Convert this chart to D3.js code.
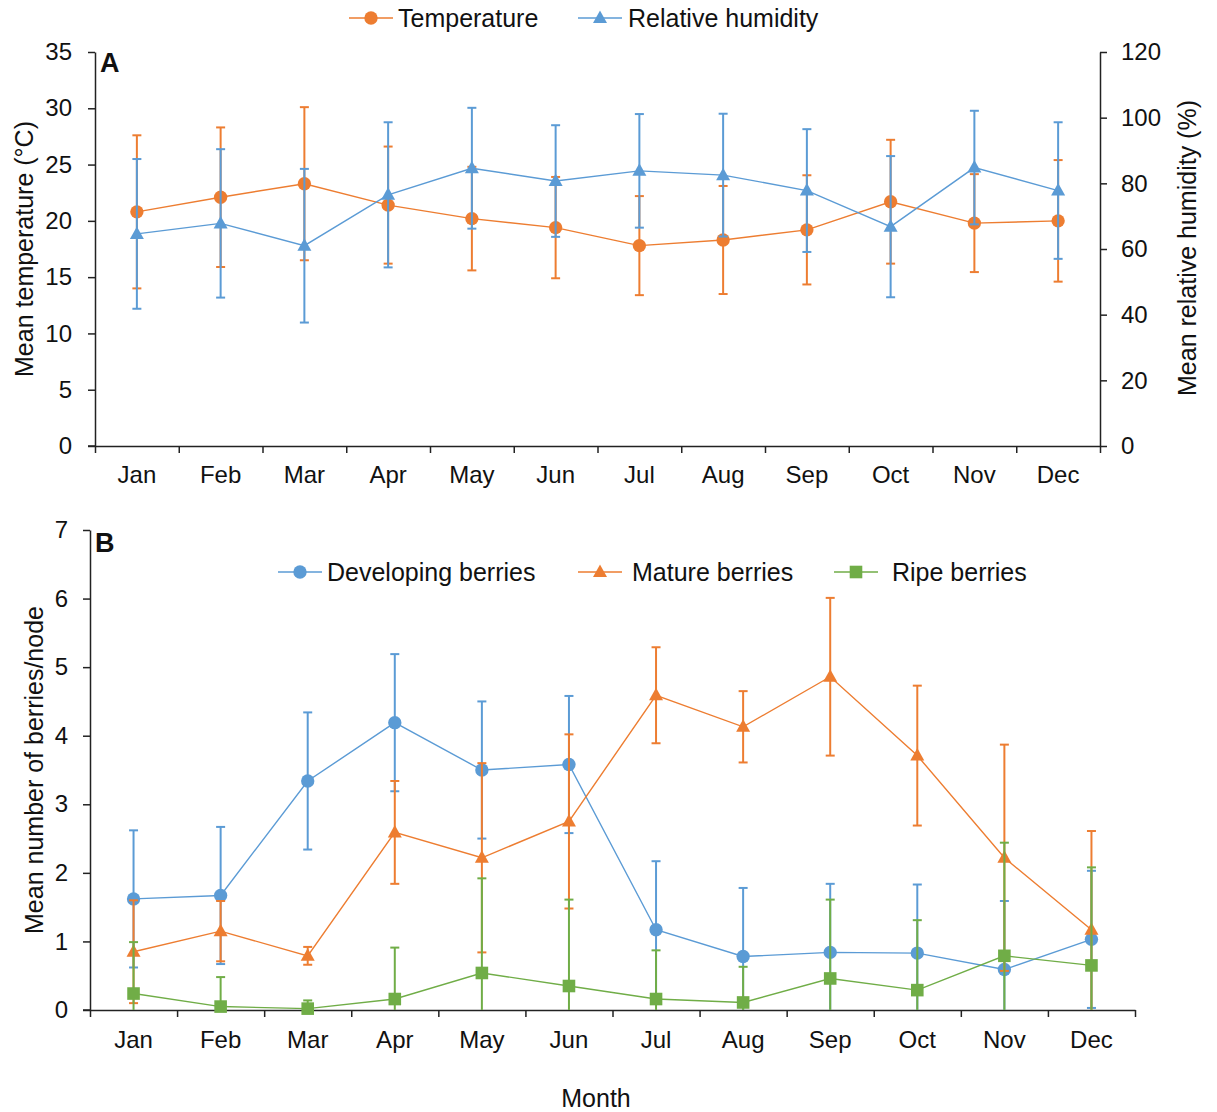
<!DOCTYPE html>
<html>
<head>
<meta charset="utf-8">
<script src="https://cdn.jsdelivr.net/npm/d3@7"></script>
<style>
  body { margin: 0; background: #fff; }
  svg { font-family: "Liberation Sans", Arial, sans-serif; }
  .axis path, .axis line { stroke: #222; stroke-width: 1.5; }
  .axis text { font-size: 24px; fill: #111; }
</style>
</head>
<body>
<svg id="chart" width="1217" height="1112"></svg>
<script>
var months = ["Jan", "Feb", "Mar", "Apr", "May", "Jun", "Jul", "Aug", "Sep", "Oct", "Nov", "Dec"];

// panel A
var tempMean = [20.8, 22.1, 23.3, 21.4, 20.2, 19.4, 17.8, 18.3, 19.2, 21.7, 19.8, 20.0];
var tempErr  = [6.8, 6.2, 6.8, 5.2, 4.6, 4.5, 4.4, 4.8, 4.85, 5.5, 4.35, 5.4];
var rhMean   = [64.6, 67.8, 61.0, 76.5, 84.6, 80.7, 83.8, 82.5, 77.8, 66.8, 84.8, 77.8];
var rhErr    = [22.8, 22.6, 23.4, 22.1, 18.4, 17.0, 17.3, 18.7, 18.7, 21.5, 17.3, 20.8];
var tempTicks = [0, 5, 10, 15, 20, 25, 30, 35];
var rhTicks = [0, 20, 40, 60, 80, 100, 120];

// panel B
var devMean = [1.62, 1.67, 3.34, 4.19, 3.50, 3.58, 1.17, 0.78, 0.84, 0.83, 0.59, 1.03];
var devErr  = [1.0, 1.0, 1.0, 1.0, 1.0, 1.0, 1.0, 1.0, 1.0, 1.0, 1.0, 1.0];
var matMean = [0.85, 1.15, 0.79, 2.59, 2.22, 2.75, 4.59, 4.13, 4.86, 3.71, 2.22, 1.17];
var matErr  = [0.75, 0.44, 0.13, 0.75, 1.38, 1.27, 0.70, 0.52, 1.15, 1.02, 1.65, 1.44];
var ripeMean = [0.24, 0.05, 0.02, 0.16, 0.54, 0.35, 0.16, 0.11, 0.46, 0.29, 0.79, 0.65];
var ripeErr  = [0.75, 0.43, 0.12, 0.75, 1.38, 1.26, 0.71, 0.52, 1.15, 1.02, 1.65, 1.43];
var berryTicks = [0, 1, 2, 3, 4, 5, 6, 7];

var orange = "#ED7D31", blue = "#5B9BD5", green = "#70AD47";

var svg = d3.select("#chart");

function markerPath(shape) {
  if (shape == "circle") return d3.symbol().type(d3.symbolCircle).size(140)();
  if (shape == "triangle") return "M0,-7.5L7,5L-7,5Z";
  return "M-6.3,-6.3L6.3,-6.3L6.3,6.3L-6.3,6.3Z";
}

function drawSeries(g, x, y, means, errs, color, shape) {
  var pts = means.map(function (m, i) { return { m: months[i], v: means[i], e: errs[i] }; });
  var y0 = y.domain()[0];
  var bars = g.append("g");
  pts.forEach(function (d) {
    var cx = x(d.m) + x.bandwidth() / 2;
    var hi = d.v + d.e, lo = d.v - d.e;
    var loC = Math.max(lo, y0);
    bars.append("line").attr("x1", cx).attr("x2", cx)
      .attr("y1", y(hi)).attr("y2", y(loC))
      .attr("stroke", color).attr("stroke-width", 2);
    bars.append("line").attr("x1", cx - 4.5).attr("x2", cx + 4.5)
      .attr("y1", y(hi)).attr("y2", y(hi))
      .attr("stroke", color).attr("stroke-width", 2);
    if (lo >= y0) {
      bars.append("line").attr("x1", cx - 4.5).attr("x2", cx + 4.5)
        .attr("y1", y(lo)).attr("y2", y(lo))
        .attr("stroke", color).attr("stroke-width", 2);
    }
  });
  var line = d3.line()
    .x(function (d) { return x(d.m) + x.bandwidth() / 2; })
    .y(function (d) { return y(d.v); });
  g.append("path").datum(pts).attr("d", line)
    .attr("fill", "none").attr("stroke", color).attr("stroke-width", 1.4);
  g.append("g").selectAll("path").data(pts).enter().append("path")
    .attr("d", markerPath(shape))
    .attr("transform", function (d) { return "translate(" + (x(d.m) + x.bandwidth() / 2) + "," + y(d.v) + ")"; })
    .attr("fill", color);
}

function legendItem(x0, yy, label, color, shape, textX) {
  var g = svg.append("g");
  g.append("line").attr("x1", x0).attr("x2", x0 + 44).attr("y1", yy).attr("y2", yy)
    .attr("stroke", color).attr("stroke-width", 1.4);
  g.append("path").attr("d", markerPath(shape))
    .attr("transform", "translate(" + (x0 + 22) + "," + yy + ")").attr("fill", color);
  g.append("text").attr("x", textX).attr("y", yy + 9)
    .style("font-size", "25px").attr("fill", "#111").text(label);
}

function monthAxis(x0, x1, yAxis, pad) {
  var xb = d3.scaleBand().domain(months).range([x0, x1]).padding(0);
  var xl = d3.scaleLinear().domain([0, 12]).range([x0, x1]);
  svg.append("g").attr("class", "axis")
    .attr("transform", "translate(0," + yAxis + ")")
    .call(d3.axisBottom(xl).tickValues(d3.range(0, 13)).tickSize(7).tickFormat("").tickSizeOuter(0));
  svg.append("g").attr("class", "axis")
    .attr("transform", "translate(0," + yAxis + ")")
    .call(d3.axisBottom(xb).tickSize(0).tickPadding(pad))
    .call(function (g) { g.select(".domain").remove(); });
  return xb;
}

// ---------- panel A ----------
var aTop = 52, aBot = 446, aL = 95, aR = 1100;
var yT = d3.scaleLinear().domain([0, 35]).range([aBot, aTop]);
var yH = d3.scaleLinear().domain([0, 120]).range([aBot, aTop]);

var xA = monthAxis(aL, aR, aBot, 20);
svg.append("line").attr("x1", aL - 7).attr("x2", aL).attr("y1", aBot).attr("y2", aBot)
  .attr("stroke", "#222").attr("stroke-width", 1.5);

svg.append("g").attr("class", "axis")
  .attr("transform", "translate(" + aL + ",0)")
  .call(d3.axisLeft(yT).tickValues(tempTicks).tickFormat(d3.format("d")).tickSize(7).tickPadding(16).tickSizeOuter(0));
svg.append("g").attr("class", "axis")
  .attr("transform", "translate(" + aR + ",0)")
  .call(d3.axisRight(yH).tickValues(rhTicks).tickFormat(d3.format("d")).tickSize(7).tickPadding(14).tickSizeOuter(0));

var gA = svg.append("g");
drawSeries(gA, xA, yT, tempMean, tempErr, orange, "circle");
drawSeries(gA, xA, yH, rhMean, rhErr, blue, "triangle");

svg.append("text").attr("x", 100).attr("y", 72).style("font-size", "27px")
  .style("font-weight", "bold").attr("fill", "#111").text("A");

svg.append("text").attr("transform", "translate(33,249) rotate(-90)")
  .attr("text-anchor", "middle").style("font-size", "25px").attr("fill", "#111")
  .text("Mean temperature (°C)");
svg.append("text").attr("transform", "translate(1196,248) rotate(-90)")
  .attr("text-anchor", "middle").style("font-size", "25px").attr("fill", "#111")
  .text("Mean relative humidity (%)");

legendItem(349, 18, "Temperature", orange, "circle", 398);
legendItem(578, 18, "Relative humidity", blue, "triangle", 628);

// ---------- panel B ----------
var bTop = 530, bBot = 1010, bL = 90, bR = 1135;
var yB = d3.scaleLinear().domain([0, 7]).range([bBot, bTop]);

var xB = monthAxis(bL, bR, bBot, 21);
svg.append("line").attr("x1", bL - 7).attr("x2", bL).attr("y1", bBot).attr("y2", bBot)
  .attr("stroke", "#222").attr("stroke-width", 1.5);

svg.append("g").attr("class", "axis")
  .attr("transform", "translate(" + bL + ",0)")
  .call(d3.axisLeft(yB).tickValues(berryTicks).tickFormat(d3.format("d")).tickSize(7).tickPadding(15).tickSizeOuter(0));

var gB = svg.append("g");
drawSeries(gB, xB, yB, devMean, devErr, blue, "circle");
drawSeries(gB, xB, yB, matMean, matErr, orange, "triangle");
drawSeries(gB, xB, yB, ripeMean, ripeErr, green, "square");

svg.append("text").attr("x", 95).attr("y", 552).style("font-size", "27px")
  .style("font-weight", "bold").attr("fill", "#111").text("B");

svg.append("text").attr("transform", "translate(43,770) rotate(-90)")
  .attr("text-anchor", "middle").style("font-size", "25px").attr("fill", "#111")
  .text("Mean number of berries/node");

svg.append("text").attr("x", 596).attr("y", 1107).attr("text-anchor", "middle")
  .style("font-size", "25px").attr("fill", "#111").text("Month");

legendItem(278, 572, "Developing berries", blue, "circle", 327);
legendItem(578, 572, "Mature berries", orange, "triangle", 632);
legendItem(834, 572, "Ripe berries", green, "square", 892);
</script>
</body>
</html>
